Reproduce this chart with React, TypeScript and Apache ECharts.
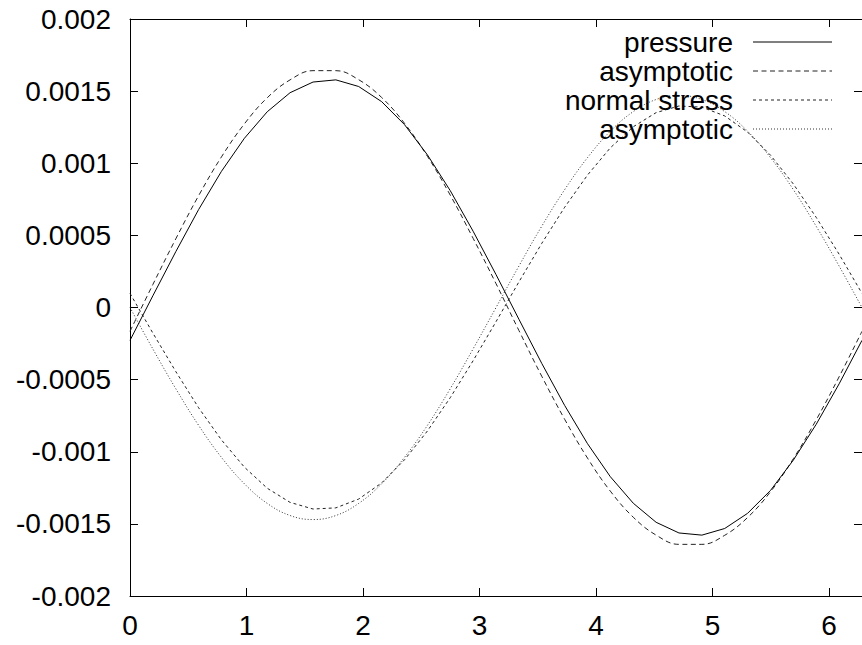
import React, { useEffect, useRef } from "react";
import * as echarts from "echarts";

const xs = [0, 0.196, 0.393, 0.589, 0.785, 0.982, 1.178, 1.374, 1.571, 1.767, 1.963, 2.16, 2.356, 2.553, 2.749, 2.945, 3.142, 3.338, 3.534, 3.731, 3.927, 4.123, 4.32, 4.516, 4.712, 4.909, 5.105, 5.301, 5.498, 5.694, 5.89, 6.087, 6.283];

const pressure = [-0.000228, 0.000081, 0.000387, 0.000679, 0.000944, 0.001173, 0.001357, 0.001489, 0.001563, 0.001578, 0.001532, 0.001427, 0.001268, 0.001058, 0.00081, 0.000529, 0.000228, -0.000081, -0.000387, -0.000679, -0.000944, -0.001173, -0.001357, -0.001489, -0.001563, -0.001578, -0.001532, -0.001427, -0.001268, -0.001058, -0.00081, -0.000529, -0.000228];

const asymptoticPressure = [-0.000165, 0.000159, 0.000476, 0.000775, 0.001044, 0.001273, 0.001454, 0.001578, 0.001642, 0.001642, 0.001579, 0.001456, 0.001277, 0.001048, 0.000779, 0.00048, 0.000165, -0.000159, -0.000476, -0.000775, -0.001044, -0.001273, -0.001454, -0.001578, -0.001642, -0.001642, -0.001579, -0.001456, -0.001277, -0.001048, -0.000779, -0.00048, -0.000165];

const normalStress = [0.000098, -0.000177, -0.000444, -0.000695, -0.000918, -0.001107, -0.001253, -0.001351, -0.001397, -0.001389, -0.001328, -0.001216, -0.001056, -0.000856, -0.000625, -0.000369, -0.000098, 0.000177, 0.000444, 0.000695, 0.000918, 0.001107, 0.001253, 0.001351, 0.001397, 0.001389, 0.001328, 0.001216, 0.001056, 0.000856, 0.000625, 0.000369, 0.000098];

const asymptoticStress = [0, -0.000287, -0.000563, -0.000817, -0.001039, -0.001222, -0.001358, -0.001442, -0.00147, -0.001442, -0.001358, -0.001222, -0.001039, -0.000817, -0.000563, -0.000287, 0, 0.000287, 0.000563, 0.000817, 0.001039, 0.001222, 0.001358, 0.001442, 0.00147, 0.001442, 0.001358, 0.001222, 0.001039, 0.000817, 0.000563, 0.000287, 0];

const seriesNames = ["pressure", "asymptotic", "normal stress", "asymptotic"];
const seriesValues = [pressure, asymptoticPressure, normalStress, asymptoticStress];

const X_MIN = 0;
const X_MAX = 6.2832;
const Y_MIN = -0.002;
const Y_MAX = 0.002;

const FONT = "Liberation Sans, Arial, Helvetica, sans-serif";

const styles = [
  { color: "#000", type: "solid" as any, smooth: false },
  { color: "#222", type: [5, 3.5] as any, smooth: true },
  { color: "#222", type: [3, 3] as any, smooth: false },
  { color: "#333", type: [1, 2] as any, smooth: true },
];

export default function App() {
  const ref = useRef<HTMLDivElement>(null);
  useEffect(() => {
    if (!ref.current) return;
    const chart = echarts.init(ref.current, null, { renderer: "svg" });
    const fmt = (v: number) => parseFloat(v.toFixed(4)).toString();
    const legendTop = 42;
    const legendStep = 29;
    const graphics: any[] = [];
    seriesNames.forEach((name, i) => {
      const y = legendTop + i * legendStep;
      graphics.push({
        type: "text",
        x: 733,
        y,
        z: 100,
        style: {
          text: name,
          align: "right",
          verticalAlign: "middle",
          font: `28px ${FONT}`,
          fill: "#000",
        },
      });
      graphics.push({
        type: "line",
        z: 100,
        shape: { x1: 753, y1: y, x2: 832, y2: y },
        style: {
          stroke: styles[i].color,
          lineWidth: 1,
          lineDash: styles[i].type === "solid" ? null : styles[i].type,
        },
      });
    });

    const axisLine = { show: true, onZero: false, lineStyle: { color: "#000", width: 1 } };
    const axisTick = { show: true, inside: true, length: 8, lineStyle: { color: "#000", width: 1 } };

    chart.setOption({
      animation: false,
      grid: { left: 130, top: 19, right: -5, bottom: 49 },
      xAxis: [
        {
          type: "value",
          min: X_MIN,
          max: X_MAX,
          interval: 1,
          position: "bottom",
          axisLine,
          axisTick,
          splitLine: { show: false },
          axisLabel: {
            color: "#000",
            fontFamily: FONT,
            fontSize: 28,
            margin: 15,
            showMaxLabel: false,
            formatter: (v: number) => fmt(v),
          },
        },
        {
          type: "value",
          min: X_MIN,
          max: X_MAX,
          interval: 1,
          position: "top",
          axisLine,
          axisTick,
          splitLine: { show: false },
          axisLabel: { show: false },
        },
      ],
      yAxis: [
        {
          type: "value",
          min: Y_MIN,
          max: Y_MAX,
          interval: 0.0005,
          position: "left",
          axisLine,
          axisTick,
          splitLine: { show: false },
          axisLabel: {
            color: "#000",
            fontFamily: FONT,
            fontSize: 28,
            margin: 19,
            formatter: (v: number) => fmt(v),
          },
        },
        {
          type: "value",
          min: Y_MIN,
          max: Y_MAX,
          interval: 0.0005,
          position: "right",
          axisLine,
          axisTick,
          splitLine: { show: false },
          axisLabel: { show: false },
        },
      ],
      series: seriesValues.map((vals, i) => ({
        name: seriesNames[i],
        type: "line",
        xAxisIndex: 0,
        yAxisIndex: 0,
        data: vals.map((v, k) => [xs[k], v]),
        showSymbol: false,
        symbol: "none",
        smooth: styles[i].smooth ? 0.4 : false,
        lineStyle: { color: styles[i].color, width: 1, type: styles[i].type },
        emphasis: { disabled: true },
        silent: true,
        z: 10 - i,
      })),
      graphic: graphics,
    });
    return () => chart.dispose();
  }, []);
  return (
    <div
      ref={ref}
      style={{ position: "fixed", left: 0, top: 0, width: 862, height: 645, background: "#fff" }}
    />
  );
}
